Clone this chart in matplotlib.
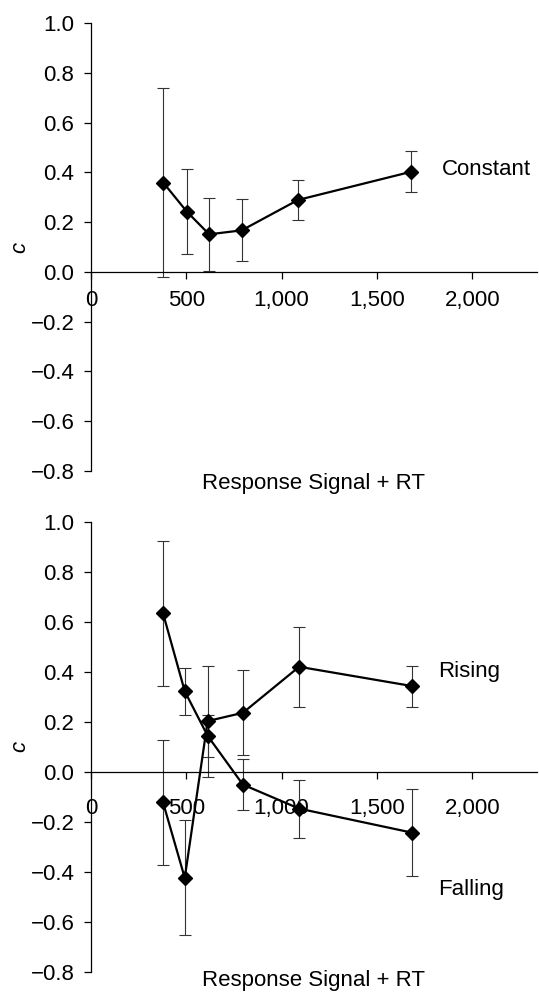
import matplotlib
matplotlib.use('Agg')
import matplotlib.pyplot as plt
import numpy as np

plt.rcParams['font.family'] = ['Liberation Sans', 'DejaVu Sans']

# ─────────────────────────────────────────────────────────────────────────────
# values
x_top = [380, 503, 620, 791, 1086, 1678]
constant = [0.358, 0.242, 0.151, 0.167, 0.289, 0.402]
constant_err = [0.38, 0.172, 0.147, 0.125, 0.082, 0.082]

x_bot = [378, 492, 612, 797, 1092, 1684]
rising = [-0.122, -0.424, 0.203, 0.236, 0.420, 0.343]
rising_err = [0.25, 0.23, 0.222, 0.17, 0.16, 0.082]
falling = [0.634, 0.322, 0.144, -0.051, -0.147, -0.243]
falling_err = [0.29, 0.095, 0.085, 0.102, 0.116, 0.175]

xticks = [0, 500, 1000, 1500, 2000]
xtick_labels = ['0', '500', '1,000', '1,500', '2,000']
yticks = [-0.8, -0.6, -0.4, -0.2, 0.0, 0.2, 0.4, 0.6, 0.8, 1.0]
# ─────────────────────────────────────────────────────────────────────────────

FS = 16

fig = plt.figure(figsize=(5.39, 9.92), dpi=100)
ax_top = fig.add_axes([0.1688, 0.5252, 0.8275, 0.4516])
ax_bot = fig.add_axes([0.1688, 0.0202, 0.8275, 0.4539])


def style_axis(ax, label_pad, xlabel_y):
    ax.set_xlim(0, 2340)
    ax.set_ylim(-0.8, 1.0)
    ax.spines['top'].set_visible(False)
    ax.spines['right'].set_visible(False)
    ax.spines['bottom'].set_position(('data', 0))
    ax.spines['bottom'].set_linewidth(0.9)
    ax.spines['left'].set_linewidth(0.9)
    ax.set_xticks(xticks)
    ax.set_xticklabels(xtick_labels)
    ax.set_yticks(yticks)
    ax.set_yticklabels([f'{v:.1f}'.replace('-', '\u2212') for v in yticks])
    ax.tick_params(axis='y', direction='out', length=5, width=0.9,
                   labelsize=FS, pad=7)
    ax.tick_params(axis='x', direction='out', length=5, width=0.9,
                   labelsize=FS, pad=label_pad)
    ax.set_ylabel('c', fontsize=FS, fontstyle='italic', labelpad=0)
    ax.text(0.5, xlabel_y, 'Response Signal + RT', transform=ax.transAxes,
            ha='center', va='center', fontsize=FS)


line_kw = dict(color='black', linewidth=1.6, marker='D', markersize=7,
               ecolor='#333333', elinewidth=0.8, capsize=4.5, capthick=0.8)

ax_top.errorbar(x_top, constant, yerr=constant_err, **line_kw)
ax_top.text(1839, 0.41, 'Constant', fontsize=FS, va='center', ha='left')
style_axis(ax_top, 8, -0.027)

ax_bot.errorbar(x_bot, rising, yerr=rising_err, **line_kw)
ax_bot.errorbar(x_bot, falling, yerr=falling_err, **line_kw)
ax_bot.text(1820, 0.40, 'Rising', fontsize=FS, va='center', ha='left')
ax_bot.text(1820, -0.47, 'Falling', fontsize=FS, va='center', ha='left')
style_axis(ax_bot, 14, -0.018)

fig.savefig('out.png', dpi=100)
